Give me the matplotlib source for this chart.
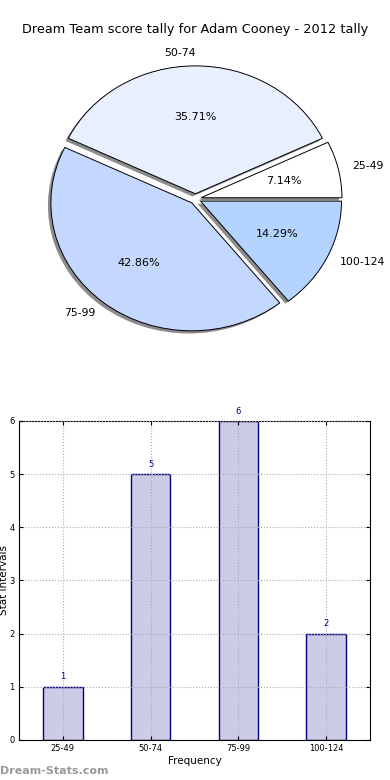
import matplotlib
matplotlib.use("Agg")
import matplotlib.pyplot as plt

categories = ["25-49", "50-74", "75-99", "100-124"]
counts = [1, 5, 6, 2]
pie_colors = ["#ffffff", "#e8f0ff", "#c4d8ff", "#b4d4ff"]
title = "Dream Team score tally for Adam Cooney - 2012 tally"

fig = plt.figure(figsize=(3.9, 7.8), dpi=100)

# Pie
ax1 = fig.add_axes([0.049, 0.540, 0.904, 0.410])
wedges, texts, autotexts = ax1.pie(
    counts, labels=categories, colors=pie_colors, explode=[0.04] * 4,
    autopct="%1.2f%%",
    shadow=dict(ox=-0.015, oy=-0.015, facecolor="#777777", edgecolor="none",
                alpha=0.85),
    startangle=0,
    wedgeprops=dict(edgecolor="black", linewidth=0.7),
    textprops=dict(fontsize=8))
ax1.set_aspect("auto")
ax1.set_xlim(-1.25, 1.25)
ax1.set_ylim(-1.25, 1.25)
for t in texts:
    t.set_fontsize(7.8)
fig.text(0.5, 0.962, title, ha="center", va="center", fontsize=9.3)

# Bar chart
ax2 = fig.add_axes([0.0487, 0.0513, 0.9, 0.409])
x = list(range(len(categories)))
bars = ax2.bar(x, counts, width=0.45, color="#ccccE6", edgecolor="#000080",
               linewidth=1.0, zorder=2)
for xi, c in zip(x, counts):
    ax2.text(xi, c + 0.1, str(c), ha="center", va="bottom", fontsize=6,
             color="#000080")
ax2.set_xlim(-0.5, 3.5)
ax2.set_ylim(0, 6)
ax2.set_xticks(x)
ax2.set_xticklabels(categories)
ax2.set_yticks(range(7))
ax2.tick_params(labelsize=6, direction="in", top=True, right=True, length=3,
                pad=3)
ax2.grid(True, linestyle=":", color="#aaaaaa", linewidth=0.8, zorder=3)
ax2.set_axisbelow(False)
ax2.set_xlabel("Frequency", fontsize=7.5, labelpad=2)
ax2.set_ylabel("Stat Intervals", fontsize=7.5, labelpad=0.5)

fig.text(0.0, 0.012, "Dream-Stats.com", fontsize=8, color="#999999",
         fontweight="bold", ha="left", va="center")

fig.savefig("out.png", dpi=100)
